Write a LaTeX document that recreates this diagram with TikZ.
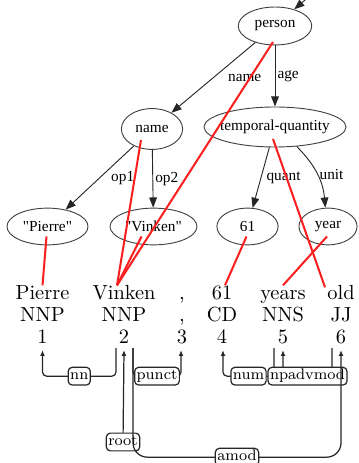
\documentclass[tikz,border=0pt]{standalone}
\usepackage{fontspec}
\usepackage{xcolor}
\usetikzlibrary{arrows.meta,positioning,calc,shapes.geometric}
\newfontfamily\gvfont{Liberation Serif}
\definecolor{alnred}{RGB}{250,32,32}

\begin{document}
\begin{tikzpicture}[x=0.49pt,y=-0.49pt,node distance=1.3pt,
 amr/.style={draw=black!75,line width=0.45pt,ellipse,inner sep=0pt,font=\gvfont\fontsize{7.5}{9}\selectfont},
 rel/.style={draw=black!85,line width=0.45pt,-{Triangle[length=5pt,width=3.8pt]}},
 rellab/.style={inner sep=1pt,font=\gvfont\fontsize{7.5}{9}\selectfont},
 tok/.style={inner sep=0pt,text height=7pt,text depth=2pt},
 arc/.style={draw=black!85,line width=0.6pt,rounded corners=2pt,-{Latex[length=2.8pt,width=2.4pt]}},
 lab/.style={draw=black!85,fill=white,line width=0.6pt,rounded corners=2pt,inner sep=1pt,
  text height=5.2pt,text depth=1.5pt,font=\fontsize{7.5}{8}\selectfont},
 aln/.style={draw=alnred,line width=1pt}]
\useasboundingbox (0,0) rectangle (358,463);
\clip (0,0) rectangle (358,463);
% AMR graph
\node[amr,minimum width=36pt,minimum height=18.6pt] (person) at (275,26) {person};
\node[amr,minimum width=30pt,minimum height=20pt] (name) at (152,129) {name};
\node[amr,minimum width=69.6pt,minimum height=19.6pt,inner xsep=-2.5pt] (tq) at (275,127) {temporal-quantity};
\node[amr,minimum width=39.7pt,minimum height=18pt] (pq) at (47.5,226.5) {"Pierre"};
\node[amr,minimum width=42.6pt,minimum height=18pt] (vq) at (153.5,226.5) {"Vinken"};
\node[amr,minimum width=30pt,minimum height=18pt] (n61) at (247.5,226.5) {61};
\node[amr,minimum width=28.5pt,minimum height=18pt] (yr) at (328,226.5) {year};
\coordinate (above) at (312,-6);
\draw[rel] (above) -- (person);
\draw[rel] (person) -- node[rellab,right=6pt]{name} (name);
\draw[rel] (person) -- node[rellab,right=0pt]{age} (tq);
\draw[rel] (name) -- node[rellab,right=4.4pt]{op1} (pq);
\draw[rel] (name) -- node[rellab,right=0pt]{op2} (vq);
\draw[rel] (tq) -- node[rellab,right=1.5pt]{quant} (n61);
\draw[rel] (tq) to[bend left=20] node[rellab,right=0pt]{unit} (yr);
% sentence
\node[tok,anchor=base] (w1) at (42.5,300) {Pierre};
\node[tok,anchor=base] (w2) at (124,300) {Vinken};
\node[tok,anchor=base] (w3) at (182,300) {,};
\node[tok,anchor=base] (w4) at (222,300) {61};
\node[tok,anchor=base] (w5) at (283,300) {years};
\node[tok,anchor=base] (w6) at (341,300) {old};
\node[tok,below=of w1] (t1) {NNP};
\node[tok,below=of w2] (t2) {NNP};
\node[tok,below=of w3] (t3) {,};
\node[tok,below=of w4] (t4) {CD};
\node[tok,below=of w5] (t5) {NNS};
\node[tok,below=of w6] (t6) {JJ};
\node[tok,below=of t1] (i1) {1};
\node[tok,below=of t2] (i2) {2};
\node[tok,below=of t3] (i3) {3};
\node[tok,below=of t4] (i4) {4};
\node[tok,below=of t5] (i5) {5};
\node[tok,below=of t6] (i6) {6};
% alignments
\draw[aln] ($(pq)+(-1,10)$) -- (w1.north);
\draw[aln] ($(name)+(-11,11)$) -- ($(w2.north)+(-7,0)$);
\draw[aln] ($(vq)+(-12,10)$) -- ($(w2.north)+(-7,0)$);
\draw[aln] ($(person)+(-2,16)$) -- ($(w2.north)+(-7,0)$);
\draw[aln] ($(tq)+(-2,12)$) -- ($(w6.north)+(-16,2)$);
\draw[aln] ($(n61)+(-1,10)$) -- ($(w4.north)+(3,0)$);
\draw[aln] ($(yr)+(-1,10)$) -- (w5.north);
% dependencies
\draw[arc] ($(i2.south)+(-8,0)$) -- ++(0,28) -| node[lab,pos=0.25]{nn} ($(i1.south)+(0,2)$);
\draw[arc] ($(i2.south)+(9,0)$) -- ++(0,28) -| node[lab,pos=0.25]{punct} ($(i3.south)+(-1,2)$);
\draw[arc] ($(i5.south)+(-9,0)$) -- ++(0,28) -| node[lab,pos=0.25]{num} ($(i4.south)+(1,2)$);
\draw[arc] ($(i6.south)+(-9,0)$) -- ++(0,28) -| node[lab,pos=0.25]{npadvmod} ($(i5.south)+(0,2)$);
\node[lab] (rootlab) at (123,442) {root};
\draw[arc] (rootlab) -- ($(i2.south)+(0,2)$);
\draw[arc,rounded corners=7pt] ($(i2.south)+(9,0)$) -- ++(0,109) -| node[lab,pos=0.25]{amod} ($(i6.south)+(0,2)$);
\end{tikzpicture}
\end{document}
